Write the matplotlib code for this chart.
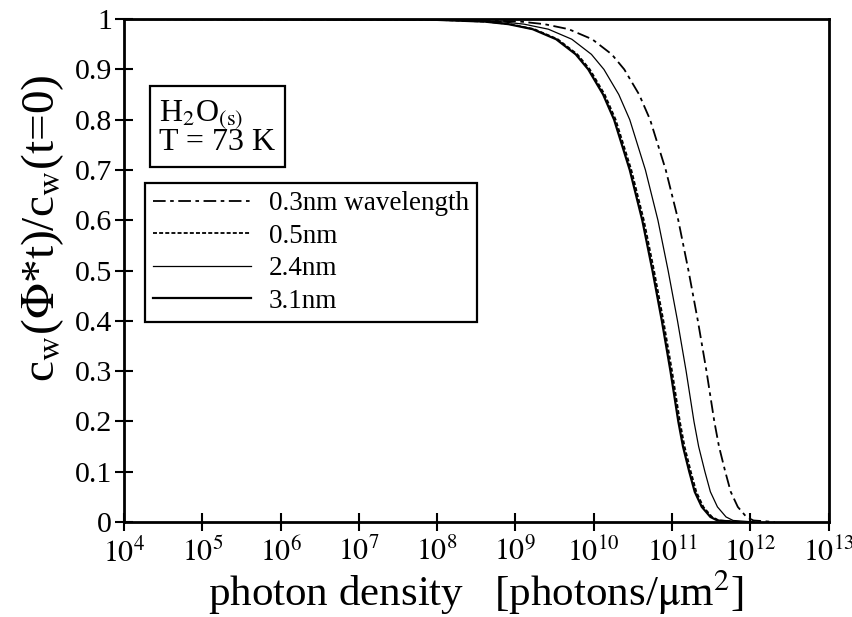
import numpy as np
import matplotlib
matplotlib.use("Agg")
import matplotlib.pyplot as plt

plt.rcParams['font.family'] = ['Liberation Serif', 'DejaVu Serif']
plt.rcParams['mathtext.fontset'] = 'stix'

y_levels = [1.0, 0.999, 0.995, 0.99, 0.98, 0.96, 0.93, 0.9, 0.85, 0.8, 0.7, 0.6, 0.5,
            0.4, 0.3, 0.2, 0.15, 0.1, 0.06, 0.03, 0.01, 0.003, 0.0]
logx_03nm = [4.0, 8.37, 9.07, 9.37, 9.68, 9.98, 10.23, 10.39, 10.58, 10.72, 10.92, 11.08, 11.21,
             11.33, 11.44, 11.54, 11.60, 11.68, 11.75, 11.84, 11.95, 12.04, 12.31]
logx_05nm = [4.0, 7.93, 8.63, 8.93, 9.24, 9.54, 9.79, 9.95, 10.14, 10.28, 10.48, 10.64, 10.77,
             10.89, 11.00, 11.10, 11.16, 11.24, 11.31, 11.40, 11.51, 11.60, 11.87]
logx_24nm = [4.0, 8.11, 8.81, 9.11, 9.42, 9.72, 9.97, 10.13, 10.32, 10.46, 10.66, 10.82, 10.95,
             11.07, 11.18, 11.28, 11.34, 11.42, 11.49, 11.58, 11.69, 11.78, 12.05]
logx_31nm = [4.0, 7.91, 8.61, 8.91, 9.22, 9.52, 9.77, 9.93, 10.12, 10.26, 10.46, 10.62, 10.75,
             10.87, 10.98, 11.08, 11.14, 11.22, 11.29, 11.38, 11.49, 11.58, 11.85]

labels = ["0.3nm wavelength", "0.5nm", "2.4nm", "3.1nm"]
xtick_exps = list(range(4, 14))
yticks = [0, 0.1, 0.2, 0.3, 0.4, 0.5, 0.6, 0.7, 0.8, 0.9, 1]
ytick_labels = ["0", "0.1", "0.2", "0.3", "0.4", "0.5", "0.6", "0.7", "0.8", "0.9", "1"]

fig = plt.figure(figsize=(8.53, 6.17), dpi=100)
ax = fig.add_axes([0.1454, 0.154, 0.826, 0.815])

ax.plot(10.0 ** np.array(logx_03nm), y_levels, color='black', lw=1.3,
        dashes=(7, 2.5, 2, 2.5), label=labels[0])
ax.plot(10.0 ** np.array(logx_05nm), y_levels, color='black', lw=1.3,
        dashes=(2.2, 1.2), label=labels[1])
ax.plot(10.0 ** np.array(logx_24nm), y_levels, color='black', lw=0.9,
        label=labels[2])
ax.plot(10.0 ** np.array(logx_31nm), y_levels, color='black', lw=1.6,
        label=labels[3])

ax.set_xscale('log')
ax.set_xlim(1e4, 1e13)
ax.set_ylim(0, 1)
ax.set_xticks([10.0 ** e for e in xtick_exps])
ax.set_xticklabels([r'$10^{%d}$' % e for e in xtick_exps])
ax.xaxis.set_minor_locator(matplotlib.ticker.NullLocator())
ax.set_yticks(yticks)
ax.set_yticklabels(ytick_labels)

for s in ax.spines.values():
    s.set_linewidth(2.0)
ax.tick_params(axis='x', direction='inout', length=13, width=1.5, labelsize=21.5, pad=5)
ax.tick_params(axis='y', direction='inout', length=13, width=1.5, labelsize=21.5, pad=2)

ax.set_xlabel(r'photon density   [photons/$\mathrm{\mu}$m$^2$]', fontsize=31)
ax.xaxis.set_label_coords(0.50, -0.14)
ax.xaxis.label.set_va('center')
ax.set_ylabel(r'c$_\mathrm{w}$($\Phi$*t)/c$_\mathrm{w}$(t=0)', fontsize=34)
ax.yaxis.set_label_coords(-0.115, 0.585)
ax.yaxis.label.set_va('center')

ax.text(0.050, 0.842, "H$_2$O$_{\\rm (s)}$\nT = 73 K", transform=ax.transAxes,
        fontsize=23, va='top', ha='left', linespacing=0.85,
        bbox=dict(boxstyle='square,pad=0.3', facecolor='white', edgecolor='black', lw=1.6))

leg = ax.legend(loc='upper left', bbox_to_anchor=(0.030, 0.674), borderaxespad=0,
                fontsize=19.5, handlelength=3.6, handletextpad=0.67, labelspacing=0.28,
                borderpad=0.3, fancybox=False, frameon=True, framealpha=1)
leg.get_frame().set_edgecolor('black')
leg.get_frame().set_linewidth(1.6)

fig.canvas.draw()
inv = ax.transAxes.inverted()
for t in leg.get_texts()[1:]:
    bb = t.get_window_extent()
    yc = inv.transform(((bb.x0 + bb.x1) / 2, (bb.y0 + bb.y1) / 2))[1]
    ax.text(0.424, yc, '"', transform=ax.transAxes, fontsize=19.5, va='center', ha='center')

fig.savefig('out.png', dpi=100)
